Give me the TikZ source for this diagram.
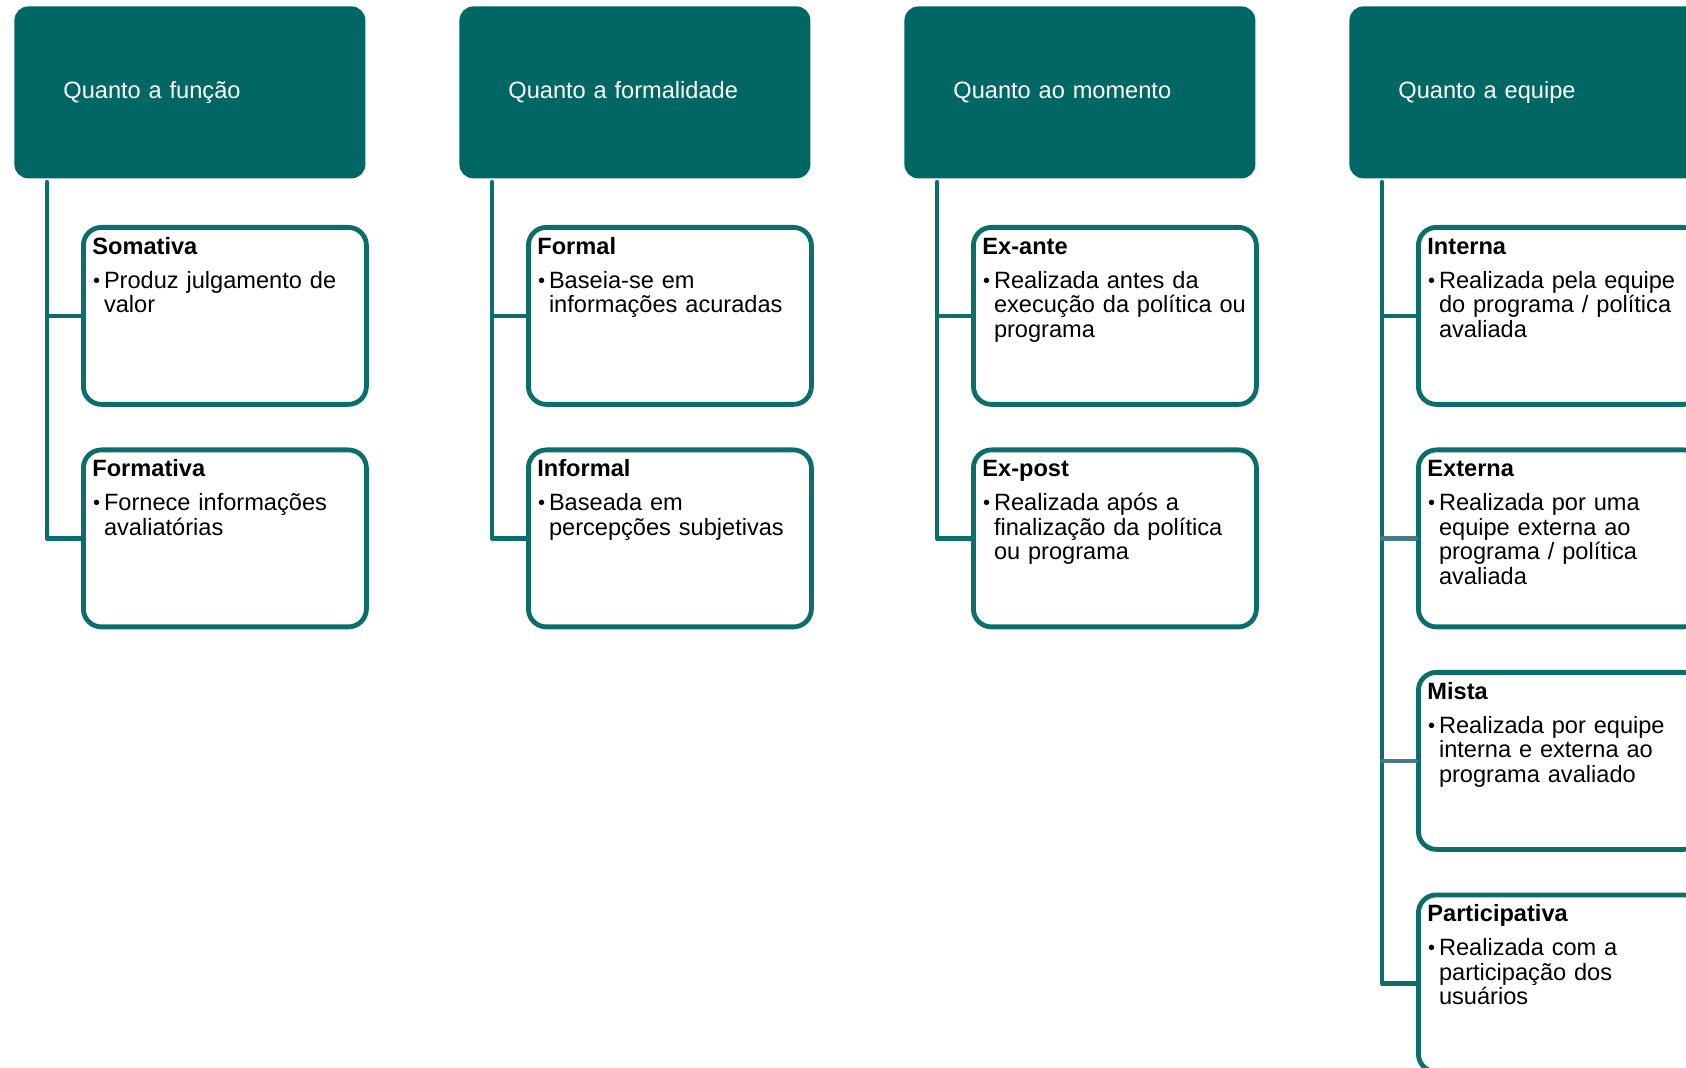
\documentclass[tikz,border=0pt]{standalone}
\usepackage{fontspec}
\setmainfont{Liberation Sans}
\usepackage{tikz}
\definecolor{tealhead}{HTML}{006765}
\definecolor{tealline}{HTML}{0B6E6B}
\definecolor{bluetwig}{HTML}{457A8A}
\newcommand{\bulletline}[1]{\makebox[5.8pt][l]{\hspace{0.4pt}\raisebox{0.6pt}{\fontsize{10}{10}\selectfont\textbullet}}\parbox[t]{140pt}{\raggedright #1}}
\tikzset{
  every picture/.style={
    line join=round,
    line cap=round,
  },
  % header boxes and the boxes hanging under them
  head/.style={fill=tealhead, text=white, rounded corners=7pt, anchor=north west,
    minimum height=86pt, text width=126.5pt, inner xsep=24.5pt, align=left,
    font=\fontsize{11.8}{12.25}\selectfont},
  sub/.style={draw=tealline, line width=2.4pt, fill=white, rounded corners=9pt,
    anchor=north west, text width=132.5pt, inner xsep=4.5pt, inner ysep=0pt,
    text height=13.5pt, text depth=75pt, align=left,
    font=\fontsize{11.8}{12.25}\selectfont},
  trunk/.style={tealline, line width=2.2pt},
  twig/.style={tealline, line width=2.2pt},
}

\begin{document}
\begin{tikzpicture}[x=0.5pt, y=-0.5pt]
\path[use as bounding box, clip] (0,0) rectangle (1686,1068);

% headers
\node[head] (h1) at (14,6) {Quanto a função};
\node[head] (h2) at (459,6) {Quanto a formalidade};
\node[head] (h3) at (904,6) {Quanto ao momento};
\node[head] (h4) at (1349,6) {Quanto a equipe};

% boxes
\node[sub] (som) at (81,225) {\textbf{Somativa}\\[4.75pt]\bulletline{Produz julgamento de\\valor}};
\node[sub] (form) at (81,447.5) {\textbf{Formativa}\\[4.75pt]\bulletline{Fornece informações\\avaliatórias}};
\node[sub] (fml) at (526,225) {\textbf{Formal}\\[4.75pt]\bulletline{Baseia-se em\\informações acuradas}};
\node[sub] (infml) at (526,447.5) {\textbf{Informal}\\[4.75pt]\bulletline{Baseada em\\percepções subjetivas}};
\node[sub] (exa) at (971,225) {\textbf{Ex-ante}\\[4.75pt]\bulletline{Realizada antes da\\execução da política ou\\programa}};
\node[sub] (exp) at (971,447.5) {\textbf{Ex-post}\\[4.75pt]\bulletline{Realizada após a\\finalização da política\\ou programa}};
\node[sub] (int) at (1416,225) {\textbf{Interna}\\[4.75pt]\bulletline{Realizada pela equipe\\do programa / política\\avaliada}};
\node[sub] (ext) at (1416,447.5) {\textbf{Externa}\\[4.75pt]\bulletline{Realizada por uma\\equipe externa ao\\programa / política\\avaliada}};
\node[sub] (mis) at (1416,670) {\textbf{Mista}\\[4.75pt]\bulletline{Realizada por equipe\\interna e externa ao\\programa avaliado}};
\node[sub] (par) at (1416,892.5) {\textbf{Participativa}\\[4.75pt]\bulletline{Realizada com a\\participação dos\\usuários}};

% trunks
\coordinate (t1) at (47,182);
\coordinate (t2) at (492,182);
\coordinate (t3) at (937,182);
\coordinate (t4) at (1382,182);
\draw[trunk] (t1) |- (form.west);
\draw[twig] (t1 |- som.west) -- (som.west);
\draw[trunk] (t2) |- (infml.west);
\draw[twig] (t2 |- fml.west) -- (fml.west);
\draw[trunk] (t3) |- (exp.west);
\draw[twig] (t3 |- exa.west) -- (exa.west);
\draw[trunk] (t4) |- (par.west);
\draw[twig] (t4 |- int.west) -- (int.west);
\draw[twig, bluetwig] (t4 |- ext.west) -- (ext.west);
\draw[twig, bluetwig] (t4 |- mis.west) -- (mis.west);
\end{tikzpicture}
\end{document}
